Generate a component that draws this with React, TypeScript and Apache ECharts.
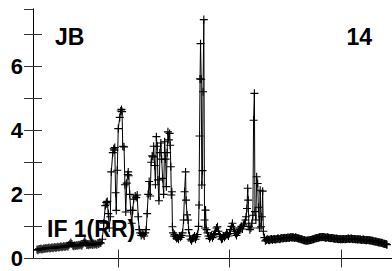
import React, { useEffect, useRef } from 'react';
import * as echarts from 'echarts';

const panelLabel = 'JB';
const panelNumber = '14';
const seriesLabel = 'IF 1(RR)';

const xMin = 0;
const xMax = 360;
const xTickValues = [85.3, 196.8, 309.2];
const yMin = 0;
const yMax = 7.78;
const yInterval = 1;

// [beat position, RR value] – onset and spike section
const rrSpikes: [number, number][] = [
  [4, 0.28], [5, 0.26], [6, 0.3], [7, 0.29], [8, 0.31], [9, 0.28], [10, 0.3], [11, 0.32], [12, 0.3], [13, 0.33],
  [14, 0.31], [15, 0.32], [16, 0.34], [17, 0.31], [18, 0.33], [19, 0.35], [20, 0.32], [21, 0.34], [22, 0.36], [23, 0.33],
  [24, 0.35], [25, 0.37], [26, 0.34], [27, 0.36], [28, 0.38], [29, 0.35], [30, 0.37], [31, 0.39], [32, 0.36], [33, 0.38],
  [34, 0.4], [35, 0.37], [36, 0.42], [37, 0.46], [38, 0.5], [39, 0.45], [40, 0.4], [41, 0.38], [42, 0.41], [43, 0.39],
  [44, 0.42], [45, 0.4], [46, 0.43], [47, 0.41], [48, 0.44], [49, 0.4], [50, 0.46], [51, 0.5], [52, 0.55], [53, 0.48],
  [54, 0.42], [55, 0.44], [56, 0.41], [57, 0.45], [58, 0.43], [59, 0.46], [60, 0.42], [61, 0.47], [62, 0.44], [63, 0.46],
  [64, 0.43], [65, 0.48], [66, 0.45], [67, 0.5], [68, 0.48],
  [69.5, 0.6], [71, 1.1], [72.5, 1.65], [73.5, 1.75], [74, 1.7], [74.5, 1.78], [75.5, 1.4], [76.5, 0.95], [77.5, 1.3],
  [78.5, 2.7], [80, 3.3], [81, 3.42], [81.5, 3.38], [82, 3.46], [82.8, 2.05], [83.5, 1.5], [84.5, 2.75], [85.5, 4.05],
  [87, 4.4], [88, 4.6], [88.7, 4.65], [89.3, 4.58], [90, 3.5], [91.3, 3.48], [92.2, 2.3], [93, 1.45], [94, 2.35],
  [95, 2.62], [95.5, 2.7], [96, 2.58], [97, 2.0], [98, 1.5], [99, 1.1], [100, 1.5], [101, 1.85], [102.5, 1.95],
  [103.5, 1.9], [104.5, 1.98], [105.5, 1.3], [106.5, 0.9], [107.5, 0.8], [108.5, 0.72], [109.5, 0.78], [110.5, 0.75],
  [111.5, 0.7], [112.5, 0.8], [113.5, 0.9], [114.5, 1.4], [115.5, 2.0], [116.5, 2.4], [117.5, 1.95], [118.5, 3.0],
  [119.5, 3.2], [120.3, 3.17], [121, 3.5], [122, 2.9], [122.8, 2.3], [123.7, 3.8], [124.5, 3.5], [125.3, 2.45],
  [126.3, 1.8], [127.3, 3.3], [128.2, 3.6], [129, 3.1], [130, 2.5], [131, 2.0], [132, 3.64], [133, 3.1], [133.7, 2.24],
  [134.5, 3.3], [135.3, 3.95], [136.2, 3.7], [137, 3.9], [137.6, 3.53], [138.2, 2.86], [138.7, 1.98], [139.3, 2.08],
  [139.8, 0.99], [140.5, 0.8], [141.3, 0.7], [142, 0.75],
  [143, 0.68], [144, 0.62], [145, 0.65], [146, 0.6], [147, 0.7], [148, 0.66], [149, 0.72], [150, 0.8], [151, 1.2],
  [152, 2.08], [153, 2.7], [153.5, 1.82], [154.5, 1.36], [155.5, 1.2], [156, 0.9], [157, 0.7], [158, 0.6], [159, 0.55],
  [160, 0.62], [161, 0.65], [162, 0.7], [163, 0.6], [164, 0.68], [165, 0.75], [166, 1.0], [166.5, 1.67], [167, 3.82],
  [167.5, 5.6], [168, 6.7], [168.7, 5.59], [169.3, 2.29], [170, 2.74], [170.5, 5.2], [171.3, 7.45], [172, 1.2],
  [172.5, 0.95], [173, 1.51], [174, 0.9], [175, 0.8], [176, 0.7], [177, 0.62], [178, 0.68], [179, 0.72], [180, 0.65],
  [181, 0.7], [182, 0.78], [183, 0.85], [184, 0.95], [185, 0.99], [186, 0.85], [187, 0.75], [188, 0.68], [189, 0.6],
  [190, 0.62], [191, 0.7], [192, 0.66], [193, 0.72], [194, 0.8], [195, 0.75], [196, 0.7], [197, 0.78], [198, 0.9],
  [199, 1.0], [200, 1.1], [201, 0.95], [202, 0.85], [203, 0.78], [204, 0.72], [205, 0.8], [206, 0.85], [207, 0.9],
  [208, 0.95], [209, 1.0], [210, 0.92], [211, 1.05], [212, 1.1], [213, 1.2], [213.7, 1.3], [214.5, 1.56], [215.3, 2.19],
  [215.8, 1.82], [216.5, 1.0], [217.5, 0.9], [218.5, 0.95], [219.5, 1.1], [220.5, 1.35], [221.2, 4.31], [222, 5.15],
  [222.6, 1.46], [223.5, 1.2], [224.3, 2.55], [225.3, 2.34], [226, 1.6], [227, 0.95], [227.8, 2.13], [228.7, 0.99],
  [229.5, 1.3], [230.3, 2.1], [231, 0.85], [232, 0.65], [233, 0.55],
];

// [beat position, RR value] – recovery plateau
const rrPlateau: [number, number][] = [
  [234, 0.58], [234.75, 0.6], [235.5, 0.6], [236.25, 0.58], [237, 0.57], [237.75, 0.59], [238.5, 0.6], [239.25, 0.61],
  [240, 0.58], [240.75, 0.6], [241.5, 0.61], [242.25, 0.6], [243, 0.59], [243.75, 0.61], [244.5, 0.6], [245.25, 0.62],
  [246, 0.62], [246.75, 0.61], [247.5, 0.6], [248.25, 0.62], [249, 0.63], [249.75, 0.64], [250.5, 0.62], [251.25, 0.63],
  [252, 0.64], [252.75, 0.65], [253.5, 0.63], [254.25, 0.64], [255, 0.65], [255.75, 0.66], [256.5, 0.64], [257.25, 0.65],
  [258, 0.66], [258.75, 0.67], [259.5, 0.65], [260.25, 0.66], [261, 0.66], [261.75, 0.65], [262.5, 0.64], [263.25, 0.66],
  [264, 0.65], [264.75, 0.64], [265.5, 0.63], [266.25, 0.62], [267, 0.62], [267.75, 0.61], [268.5, 0.6], [269.25, 0.6],
  [270, 0.59], [270.75, 0.58], [271.5, 0.57], [272.25, 0.57], [273, 0.56], [273.75, 0.55], [274.5, 0.55], [275.25, 0.56],
  [276, 0.56], [276.75, 0.57], [277.5, 0.57], [278.25, 0.58], [279, 0.58], [279.75, 0.59], [280.5, 0.6], [281.25, 0.6],
  [282, 0.61], [282.75, 0.62], [283.5, 0.63], [284.25, 0.63], [285, 0.64], [285.75, 0.65], [286.5, 0.65], [287.25, 0.66],
  [288, 0.66], [288.75, 0.67], [289.5, 0.66], [290.25, 0.67], [291, 0.67], [291.75, 0.66], [292.5, 0.66], [293.25, 0.65],
  [294, 0.65], [294.75, 0.66], [295.5, 0.66], [296.25, 0.65], [297, 0.64], [297.75, 0.64], [298.5, 0.63], [299.25, 0.64],
  [300, 0.64], [300.75, 0.63], [301.5, 0.62], [302.25, 0.62], [303, 0.61], [303.75, 0.62], [304.5, 0.62], [305.25, 0.61],
  [306, 0.6], [306.75, 0.61], [307.5, 0.61], [308.25, 0.6], [309, 0.6], [309.75, 0.61], [310.5, 0.6], [311.25, 0.61],
  [312, 0.61], [312.75, 0.6], [313.5, 0.6], [314.25, 0.61], [315, 0.61], [315.75, 0.62], [316.5, 0.62], [317.25, 0.61],
  [318, 0.61], [318.75, 0.62], [319.5, 0.62], [320.25, 0.61], [321, 0.6], [321.75, 0.61], [322.5, 0.61], [323.25, 0.6],
  [324, 0.6], [324.75, 0.6], [325.5, 0.59], [326.25, 0.6], [327, 0.6], [327.75, 0.59], [328.5, 0.59], [329.25, 0.58],
  [330, 0.58], [330.75, 0.59], [331.5, 0.59], [332.25, 0.58], [333, 0.58], [333.75, 0.57], [334.5, 0.57], [335.25, 0.58],
  [336, 0.58], [336.75, 0.57], [337.5, 0.57], [338.25, 0.56], [339, 0.56], [339.75, 0.55], [340.5, 0.55], [341.25, 0.54],
  [342, 0.54], [342.75, 0.53], [343.5, 0.53], [344.25, 0.52], [345, 0.52], [345.75, 0.51], [346.5, 0.51], [347.25, 0.5],
  [348, 0.5], [348.75, 0.49], [349.5, 0.49], [350.25, 0.48], [351, 0.47], [351.75, 0.46], [352.5, 0.46], [353.25, 0.45],
  [354, 0.45], [354.5, 0.44], [355, 0.43],
];

const FONT = "'Liberation Sans', Arial, sans-serif";
const PLUS = 'path://M4.3,0H5.7V4.3H10V5.7H5.7V10H4.3V5.7H0V4.3H4.3Z';

export default function App() {
  const ref = useRef<HTMLDivElement>(null);
  useEffect(() => {
    const chart = echarts.init(ref.current!, null, { renderer: 'svg' });
    const xBase = {
      type: 'value',
      min: xMin,
      max: xMax,
      axisLine: { show: true, lineStyle: { color: '#000', width: 1 } },
      axisTick: { show: true, inside: true, length: 9, customValues: xTickValues, lineStyle: { color: '#333' } },
      axisLabel: { show: false },
      splitLine: { show: false },
    };
    const yBase = {
      type: 'value',
      min: yMin,
      max: yMax,
      interval: yInterval,
      axisLine: { show: true, lineStyle: { color: '#000', width: 1 } },
      axisTick: { show: true, inside: true, length: 9, lineStyle: { color: '#333' } },
      splitLine: { show: false },
    };
    chart.setOption({
      animation: false,
      backgroundColor: '#fff',
      grid: { left: 33, top: 9, width: 360, height: 249.5, containLabel: false },
      xAxis: [
        { ...xBase, position: 'bottom', axisLine: { show: true, lineStyle: { color: '#444', width: 1 } } },
        { ...xBase, position: 'top' },
      ],
      yAxis: [
        {
          ...yBase,
          position: 'left',
          axisLabel: {
            show: true,
            margin: 10,
            color: '#000',
            fontSize: 22,
            fontWeight: 'bold',
            fontFamily: FONT,
            showMaxLabel: false,
            formatter: (v: number) => (Math.abs(v - Math.round(v)) < 1e-6 && Math.round(v) % 2 === 0 ? String(Math.round(v)) : ''),
          },
        },
        { ...yBase, position: 'right', axisLabel: { show: false } },
      ],
      series: [
        {
          type: 'line',
          xAxisIndex: 0,
          yAxisIndex: 0,
          data: [...rrSpikes, ...rrPlateau],
          symbol: PLUS,
          symbolSize: 8,
          showAllSymbol: true,
          itemStyle: { color: '#000' },
          lineStyle: { color: '#000', width: 1 },
          emphasis: { disabled: true },
        },
      ],
      graphic: [
        { type: 'text', left: 55, top: 25, style: { text: panelLabel, font: `bold 23px ${FONT}`, fill: '#000' } },
        { type: 'text', right: 20, top: 25, style: { text: panelNumber, font: `bold 23px ${FONT}`, fill: '#000' } },
        { type: 'text', left: 47, top: 217, style: { text: seriesLabel, font: `bold 23px ${FONT}`, fill: '#000' } },
      ],
    });
    return () => chart.dispose();
  }, []);
  return (
    <div
      ref={ref}
      style={{ position: 'fixed', left: 0, top: 0, width: 392, height: 271, background: '#fff' }}
    />
  );
}
